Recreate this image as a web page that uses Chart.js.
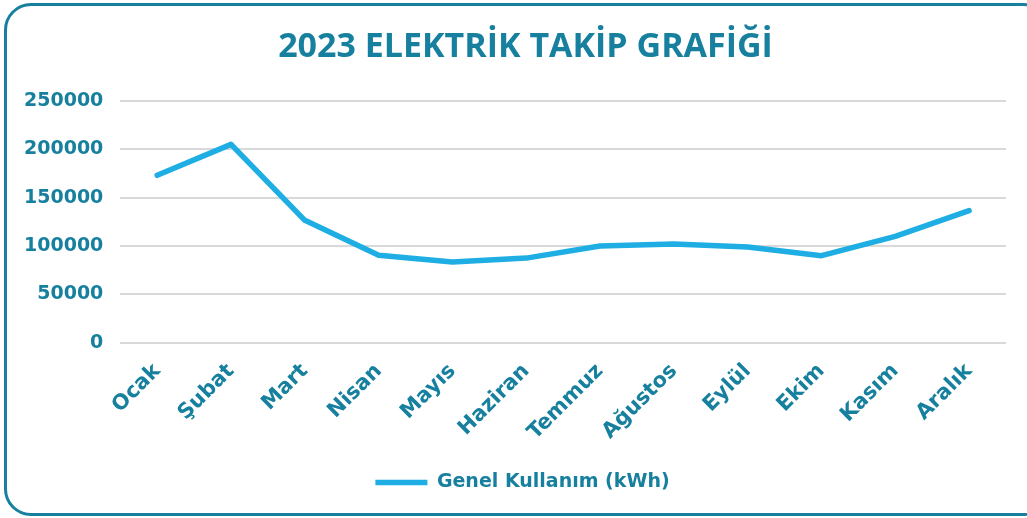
<!DOCTYPE html>
<html>
<head>
<meta charset="utf-8">
<script src="https://cdn.jsdelivr.net/npm/chart.js@4/dist/chart.umd.min.js"></script>
<style>
  html, body { margin: 0; padding: 0; background: #fff; overflow: hidden; }
  #wrap { position: relative; width: 1027px; height: 518px; }
  #frame {
    position: absolute; left: 4px; top: 3px; width: 1040px; height: 507px;
    border: 3px solid #17809e; border-radius: 27px;
  }
  #chart1 { position: absolute; left: 0; top: 0; }
</style>
</head>
<body>
<div id="wrap">
  <div id="frame"></div>
  <canvas id="chart1" width="1027" height="518"></canvas>
</div>
<script>
const months = ["Ocak", "Şubat", "Mart", "Nisan", "Mayıs", "Haziran", "Temmuz", "Ağustos", "Eylül", "Ekim", "Kasım", "Aralık"];
const usage = [173000, 205000, 126500, 90500, 83500, 87500, 100000, 102000, 99000, 90000, 110000, 136500];
const seriesName = "Genel Kullanım (kWh)";
const chartTitle = "2023 ELEKTRİK TAKİP GRAFİĞİ";

const teal = '#17809e';
const blue = '#1eaee4';

// title and legend sit a bit right of the plot centre in the original
const shiftBlocks = {
  id: 'shiftBlocks',
  afterLayout(chart) {
    chart.titleBlock.left += 19;
    chart.titleBlock.right += 19;
    chart.legend.left += 16;
    chart.legend.right += 16;
  }
};

const contexte = document.querySelector('#chart1').getContext("2d");
let graphique = new Chart(contexte, {
  type: "line",
  data: {
    labels: months,
    datasets: [
      {
        label: seriesName,
        data: usage,
        borderColor: blue,
        backgroundColor: blue,
        borderWidth: 5.5,
        borderCapStyle: 'round',
        borderJoinStyle: 'round',
        pointRadius: 0,
        tension: 0
      }
    ]
  },
  plugins: [shiftBlocks],
  options: {
    responsive: false,
    animation: false,
    layout: { padding: { left: 7, right: 21, top: 0, bottom: 16 } },
    scales: {
      x: {
        offset: true,
        grid: { display: false },
        border: { display: false },
        afterFit(scale) {
          // rotated labels may hang past the left edge, as in the original
          scale.paddingLeft = 0;
          scale.paddingRight = 0;
          scale.height += 10;
        },
        ticks: {
          minRotation: 45,
          maxRotation: 45,
          padding: 8,
          color: teal,
          font: { family: 'DejaVu Sans', size: 21, weight: 'bold' }
        }
      },
      y: {
        min: 0,
        max: 250000,
        border: { display: false },
        grid: { color: '#d9d9d9', lineWidth: 2, drawTicks: false },
        ticks: {
          stepSize: 50000,
          padding: 17,
          color: teal,
          font: { family: 'DejaVu Sans', size: 19, weight: 'bold' },
          callback: (v) => String(v)
        }
      }
    },
    plugins: {
      title: {
        display: true,
        text: chartTitle,
        color: teal,
        padding: { top: 27, bottom: 33 },
        font: { family: 'Open Sans', size: 34, weight: 'bold' }
      },
      legend: {
        position: 'bottom',
        labels: {
          usePointStyle: true,
          pointStyle: 'line',
          pointStyleWidth: 52,
          color: teal,
          padding: 10,
          font: { family: 'DejaVu Sans', size: 19, weight: 'bold' }
        }
      },
      tooltip: { enabled: false }
    }
  }
});
</script>
</body>
</html>
